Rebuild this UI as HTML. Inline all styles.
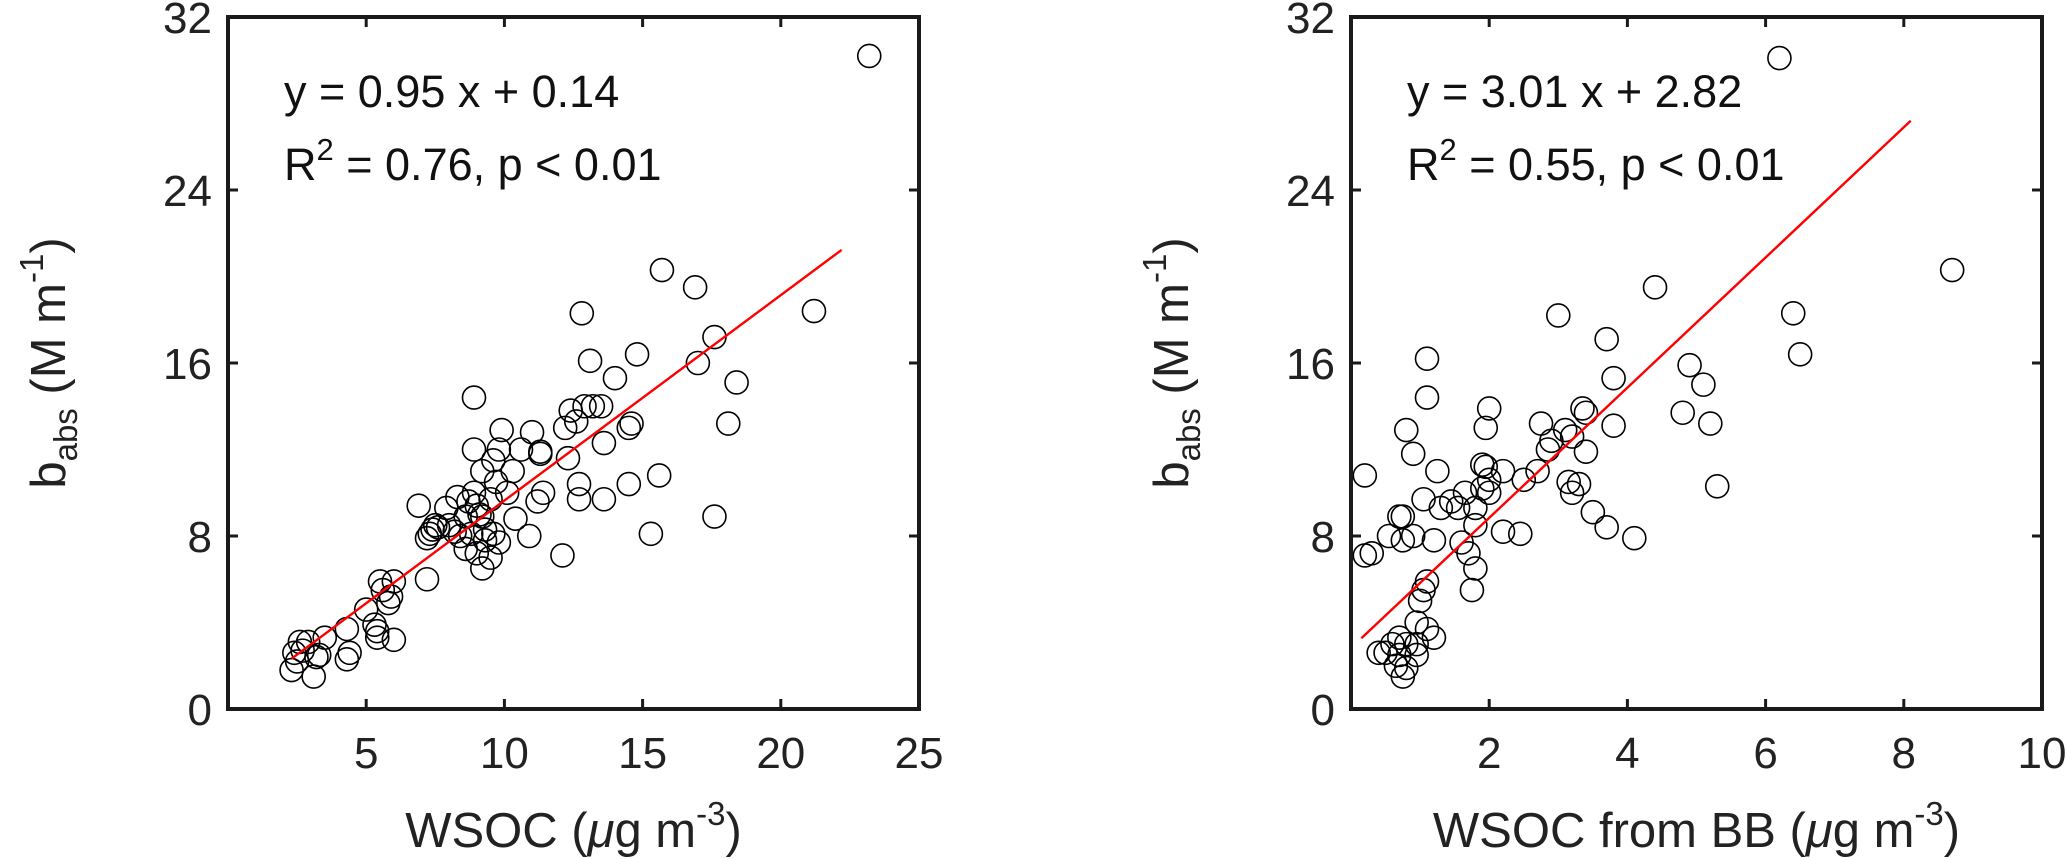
<!DOCTYPE html>
<html>
<head>
<meta charset="utf-8">
<style>
html,body{margin:0;padding:0;background:#fff;}
svg{display:block;font-family:"Liberation Sans",Arial,sans-serif;}
</style>
</head>
<body>
<svg id="fig" width="2067" height="859" viewBox="0 0 2067 859" xmlns="http://www.w3.org/2000/svg">
<g id="p1"></g>
<g id="p2"></g>
</svg>
<script>
// Left panel data: WSOC vs b_abs
const leftX = [23.2,21.2,15.7,16.9,17.6,12.8,14.8,13.1,17.0,14.0,18.4,8.9,18.1,13.2,13.5,12.9,12.4,12.6,14.6,14.5,12.2,9.9,11.0,13.6,8.9,10.6,11.3,11.3,12.3,9.8,9.6,9.2,10.3,9.7,10.1,15.6,14.5,11.4,11.2,12.7,12.7,13.6,8.9,9.5,9.0,8.7,8.3,6.9,7.9,8.6,9.2,10.4,8.0,7.5,7.4,7.3,7.2,8.4,8.8,9.3,9.6,9.3,9.8,10.9,8.6,9.0,9.5,9.2,15.3,17.6,12.1,7.2,5.5,6.0,5.6,5.8,5.9,5.0,5.3,5.4,5.4,6.0,4.3,3.5,4.4,4.3,2.4,2.6,2.9,2.5,2.7,3.2,3.3,2.3,3.1,7.6,8.2,9.1];
const leftY = [30.2,18.4,20.3,19.5,17.2,18.3,16.4,16.1,16.0,15.3,15.1,14.4,13.2,14.0,14.0,14.0,13.8,13.3,13.2,13.0,13.0,12.9,12.8,12.3,12.0,12.0,11.9,11.8,11.6,12.0,11.5,11.0,11.0,10.5,10.0,10.8,10.4,10.0,9.6,10.4,9.7,9.7,10.0,9.7,9.4,9.6,9.8,9.4,9.3,8.9,8.9,8.8,8.5,8.5,8.3,8.1,7.9,8.0,8.1,8.3,8.1,7.8,7.7,8.0,7.4,7.2,7.0,6.5,8.1,8.9,7.1,6.0,5.9,5.9,5.5,4.9,5.2,4.6,3.9,3.6,3.3,3.2,3.7,3.3,2.6,2.3,2.6,3.1,3.1,2.2,2.7,2.4,2.5,1.8,1.5,8.4,8.2,9.0];
const leftFit = [0.95, 0.14];
const leftFitRange = [2.3, 22.2];
const leftXTicks = [5,10,15,20,25];
const yTicks = [0,8,16,24,32];
// Right panel data: WSOC from BB vs b_abs
const rightX = [6.2,8.7,4.4,6.4,3.0,3.7,6.5,1.1,4.9,5.1,3.8,1.1,2.0,3.35,3.4,4.8,5.2,3.8,2.75,1.95,0.8,3.1,3.2,2.9,0.9,3.4,1.25,1.95,1.9,2.2,2.7,3.15,3.2,3.3,5.3,2.5,1.9,2.0,1.05,1.45,1.3,1.8,1.55,3.5,0.7,0.75,1.8,2.2,2.45,3.7,4.1,0.55,0.75,0.9,1.2,1.6,1.7,1.8,1.75,0.2,0.3,0.2,1.1,1.05,1.0,0.95,0.7,1.1,1.2,0.95,0.8,0.5,0.4,0.7,0.65,0.75,0.8,0.95,0.6,2.0,2.85,1.65];
const rightY = [30.1,20.3,19.5,18.3,18.2,17.1,16.4,16.2,15.9,15.0,15.3,14.4,13.9,13.9,13.7,13.7,13.2,13.1,13.2,13.0,12.9,12.9,12.6,12.4,11.8,11.9,11.0,11.2,11.3,11.0,11.0,10.5,10.0,10.4,10.3,10.6,10.2,10.0,9.7,9.6,9.3,9.3,9.3,9.1,8.9,8.9,8.5,8.2,8.1,8.4,7.9,8.0,7.8,8.0,7.8,7.7,7.2,6.5,5.5,7.1,7.2,10.8,5.9,5.5,5.0,4.0,3.3,3.7,3.3,3.0,3.0,2.6,2.6,2.5,2.0,1.5,1.9,2.5,3.0,10.6,12.0,10.0];
const rightFit = [3.01, 2.82];
const rightFitRange = [0.15, 8.1];
const rightXTicks = [2,4,6,8,10];

const NS = "http://www.w3.org/2000/svg";
function mk(tag, attrs, parent){
  const e = document.createElementNS(NS, tag);
  for (const k in attrs) e.setAttribute(k, attrs[k]);
  parent.appendChild(e);
  return e;
}

function panel(g, left, xmax, xs, ys, fit, fitRange, xTicks, eqText, r2Text, xTitleParts){
  const right = left + 691, top = 17, bottom = 709;
  const sx = v => left + v / xmax * (right - left);
  const sy = v => bottom - v / 32 * (bottom - top);

  // points
  for (let i = 0; i < xs.length; i++){
    const c = mk('circle', {cx: sx(xs[i]), cy: sy(ys[i]), r: 11.5, fill: 'none', stroke: '#000', 'stroke-width': 1.6}, g);
    
    
  }
  // fit line
  const ln = mk('line', {x1: sx(fitRange[0]), y1: sy(fit[0]*fitRange[0]+fit[1]), x2: sx(fitRange[1]), y2: sy(fit[0]*fitRange[1]+fit[1]), stroke: '#ff0000', 'stroke-width': 2.4}, g);
  
  

  // axes box
  const box = mk('rect', {x: left, y: top, width: right-left, height: bottom-top, fill: 'none', stroke: '#1a1a1a', 'stroke-width': 4}, g);
  
  

  // x ticks
  xTicks.forEach(t => {
    const x = sx(t);
    mk('line', {x1: x, y1: bottom, x2: x, y2: bottom-10, stroke: '#1a1a1a', 'stroke-width': 3}, g);
    mk('line', {x1: x, y1: top, x2: x, y2: top+10, stroke: '#1a1a1a', 'stroke-width': 3}, g);
    const tx = mk('text', {x: x, y: 768, 'font-size': 44, 'text-anchor': 'middle', fill: '#222'}, g);
    tx.textContent = t;
    
    
  });
  // y ticks
  yTicks.forEach(t => {
    const y = sy(t);
    mk('line', {x1: left, y1: y, x2: left+10, y2: y, stroke: '#1a1a1a', 'stroke-width': 3}, g);
    mk('line', {x1: right, y1: y, x2: right-10, y2: y, stroke: '#1a1a1a', 'stroke-width': 3}, g);
    const ty = mk('text', {x: left-16, y: y+16, 'font-size': 44, 'text-anchor': 'end', fill: '#222'}, g);
    ty.textContent = t;
    
    
  });

  // equation annotation
  const e1 = mk('text', {x: left+56, y: 107, 'font-size': 45, fill: '#111'}, g);
  e1.textContent = eqText;
  
  
  const e2 = mk('text', {x: left+56, y: 180, 'font-size': 45, fill: '#111'}, g);
  e2.innerHTML = 'R<tspan dy="-20" font-size="31">2</tspan><tspan dy="20"> = ' + r2Text + '</tspan>';
  
  

  // x title
  const xt = mk('text', {x: (left+right)/2, y: 847, 'font-size': 49, 'text-anchor': 'middle', fill: '#222'}, g);
  xt.innerHTML = xTitleParts + ' (<tspan font-style="italic">μ</tspan>g m<tspan dy="-22" font-size="33">-3</tspan><tspan dy="22">)</tspan>';
  
  

  // y title
  const ytl = mk('text', {x: 0, y: 0, 'font-size': 49, 'text-anchor': 'middle', fill: '#222', transform: 'translate(' + (left-163) + ',' + ((top+bottom)/2) + ') rotate(-90)'}, g);
  ytl.innerHTML = 'b<tspan dy="12" font-size="33">abs</tspan><tspan dy="-12"> (M m</tspan><tspan dy="-22" font-size="33">-1</tspan><tspan dy="22">)</tspan>';
  
  
}

panel(document.getElementById('p1'), 228, 25, leftX, leftY, leftFit, leftFitRange, leftXTicks, 'y = 0.95 x + 0.14', '0.76, p < 0.01', 'WSOC');
panel(document.getElementById('p2'), 1351, 10, rightX, rightY, rightFit, rightFitRange, rightXTicks, 'y = 3.01 x + 2.82', '0.55, p < 0.01', 'WSOC from BB');
</script>
</body>
</html>
